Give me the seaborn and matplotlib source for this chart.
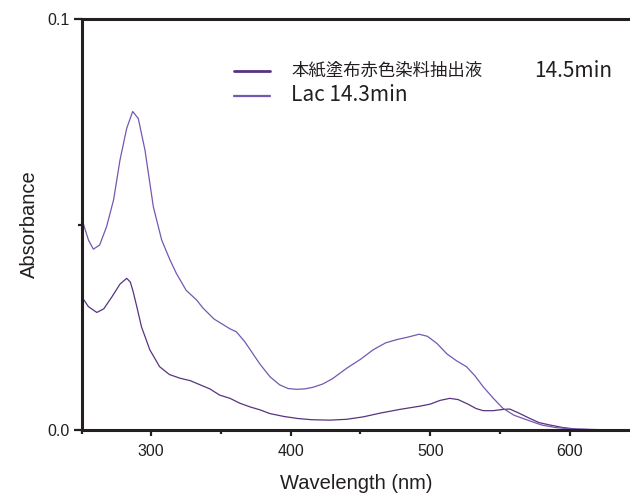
import matplotlib
matplotlib.use("Agg")
import matplotlib.pyplot as plt
import seaborn as sns
import pandas as pd
from matplotlib.ticker import MultipleLocator, FormatStrFormatter
from matplotlib.lines import Line2D

# ---- data ----
series_names = ["本紙塗布赤色染料抽出液", "Lac 14.3min"]
annotation = "14.5min"

wl_extract = [250, 255, 261, 266, 272, 277.6, 282.4, 285, 287, 290, 293, 299, 306, 313,
              320.6, 328, 335, 342, 349, 356.5, 363.6, 371, 378, 385, 395, 405, 415,
              428, 440, 452, 464, 478, 492.6, 500, 507, 514, 520, 527, 533, 538, 545,
              552, 557, 563, 571.5, 578, 586, 595, 605, 620, 643]
abs_extract = [0.0325, 0.0300, 0.0286, 0.0295, 0.0325, 0.0355, 0.0369, 0.0360, 0.0337,
               0.0295, 0.0251, 0.0195, 0.0154, 0.0135, 0.0126, 0.0120, 0.0110, 0.0100,
               0.0085, 0.0077, 0.0065, 0.0056, 0.0049, 0.0040, 0.0033, 0.0028, 0.0025,
               0.0024, 0.0026, 0.0032, 0.0041, 0.0050, 0.0058, 0.0063, 0.0072, 0.0077,
               0.0074, 0.0063, 0.0052, 0.0047, 0.0047, 0.0050, 0.0051, 0.0042, 0.0028,
               0.0018, 0.0012, 0.0006, 0.0002, 0.0001, 0.0]

wl_lac = [250, 255, 258.5, 263, 268, 273, 277.6, 282.4, 286.7, 290.7, 295.5, 301.5, 307.5,
          313.4, 318, 325, 332.6, 337, 345, 356.5, 361, 367, 372, 378, 385, 392, 398, 404,
          410, 416, 423, 430, 440, 450, 459, 468, 476, 484, 492, 498, 505, 512, 519, 526,
          532, 538, 545, 552, 560, 571.5, 580, 590, 600, 615, 643]
abs_lac = [0.0516, 0.0462, 0.0440, 0.0450, 0.0495, 0.0560, 0.0657, 0.0734, 0.0775, 0.0758,
           0.0681, 0.0543, 0.0462, 0.0414, 0.0381, 0.0340, 0.0316, 0.0297, 0.0270, 0.0246,
           0.0239, 0.0215, 0.0190, 0.0160, 0.0130, 0.0110, 0.0101, 0.0099, 0.0100, 0.0104,
           0.0112, 0.0125, 0.0150, 0.0172, 0.0195, 0.0212, 0.0220, 0.0226, 0.0233, 0.0228,
           0.0210, 0.0185, 0.0168, 0.0154, 0.0132, 0.0105, 0.0078, 0.0053, 0.0036, 0.0022,
           0.0012, 0.0006, 0.0003, 0.0001, 0.0]

x_ticks = [300, 400, 500, 600]
y_ticks = [0.0, 0.1]

colors = {series_names[0]: "#56347f", series_names[1]: "#7458b0"}

df = pd.concat([
    pd.DataFrame({"wl": wl_extract, "A": abs_extract, "series": series_names[0]}),
    pd.DataFrame({"wl": wl_lac, "A": abs_lac, "series": series_names[1]}),
], ignore_index=True)

sns.set_style("white")
plt.rcParams['font.family'] = ['Liberation Sans', 'Noto Sans CJK JP', 'DejaVu Sans']

fig = plt.figure(figsize=(6.3, 4.95), dpi=100)
ax = fig.add_axes([81.5 / 630, 65 / 495, 1 - 81.5 / 630, (430 - 19) / 495])

sns.lineplot(data=df, x="wl", y="A", hue="series", palette=colors, sort=False,
             estimator=None, linewidth=0.9, ax=ax, legend=False)

ax.set_xlim(250, 643.2)
ax.set_ylim(0, 0.1)
ax.set_xticks(x_ticks)
ax.set_yticks(y_ticks)
ax.xaxis.set_minor_locator(MultipleLocator(50))
ax.yaxis.set_minor_locator(MultipleLocator(0.05))
ax.yaxis.set_major_formatter(FormatStrFormatter('%.1f'))

for side in ["left", "bottom", "top"]:
    ax.spines[side].set_visible(True)
    ax.spines[side].set_linewidth(2.2)
    ax.spines[side].set_color("#231f20")
ax.spines["right"].set_visible(False)

ax.tick_params(axis="x", which="major", direction="out", length=4, width=1.6,
               color="#231f20", labelsize=11.5, labelcolor="#231f20", pad=6)
ax.tick_params(axis="y", which="major", direction="out", length=5.5, width=1.6,
               color="#231f20", labelsize=11.5, labelcolor="#231f20", pad=3)
ax.tick_params(axis="both", which="minor", direction="out", length=3, width=1.6,
               color="#231f20")
ax.tick_params(top=False, right=False, which="both")
ax.tick_params(axis="x", which="both", bottom=True)
ax.tick_params(axis="y", which="both", left=True)

ax.set_xlabel("Wavelength (nm)", fontsize=14.5, color="#231f20", labelpad=11)
ax.set_ylabel("Absorbance", fontsize=14.5, color="#231f20", labelpad=6)

# legend
handles = [Line2D([], [], color=colors[series_names[0]], linewidth=2.0),
           Line2D([], [], color=colors[series_names[1]], linewidth=1.6)]
leg = ax.legend(handles, series_names, loc="upper left", bbox_to_anchor=(0.268, 0.91),
                frameon=False, handlelength=2.6, handletextpad=1.5, labelspacing=0.3,
                borderaxespad=0)
leg.get_texts()[0].set_fontfamily(['Noto Sans CJK JP'])
leg.get_texts()[0].set_fontsize(12.5)
leg.get_texts()[1].set_fontfamily(['Noto Sans CJK JP'])
leg.get_texts()[1].set_fontsize(15)
for t in leg.get_texts():
    t.set_color("#231f20")

ax.text(0.825, 0.873, annotation, transform=ax.transAxes, fontsize=15,
        family=['Noto Sans CJK JP'], color="#231f20", ha="left", va="center")

fig.savefig("out.png", dpi=100)
